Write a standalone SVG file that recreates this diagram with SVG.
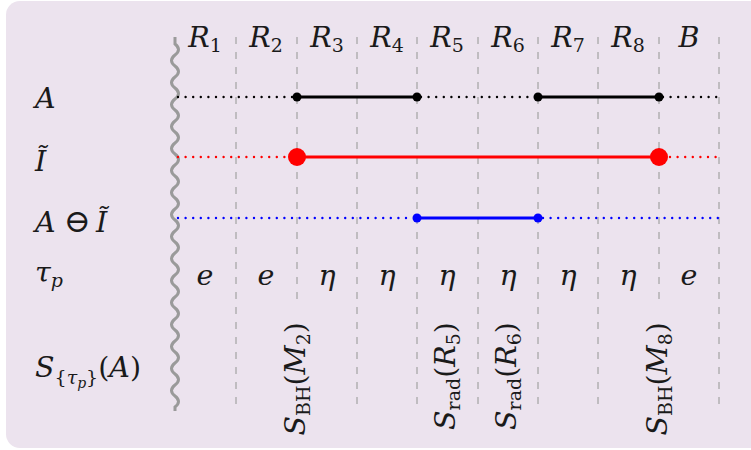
<svg xmlns="http://www.w3.org/2000/svg" width="751" height="450" viewBox="0 0 751 450">
<style>
text{font-family:"DejaVu Serif","Liberation Serif",serif;font-size:28.5px;fill:#1a1a1a}
.i{font-style:italic}
.u{font-style:normal}
.sub{font-size:19px}
.grid{stroke:#a8a8a8;stroke-width:1.3;stroke-dasharray:7 8;fill:none}
.dot{stroke-width:2.4;stroke-linecap:round;stroke-dasharray:0 7.6;fill:none}
.solid{stroke-width:3.2;fill:none}
</style>
<rect x="6" y="1" width="770" height="447" rx="14" fill="#ece3ee"/>

<g id="grid">
<path class="grid" d="M236 37V411M357 37V411M417 37V411M478 37V411M538 37V411M598 37V411M719 37V411M297 37V300M659 37V300"/>
</g>
<g id="wave">
<path d="M175 37V44q7 5.5 0 11t0 11t0 11t0 11t0 11t0 11t0 11t0 11t0 11t0 11t0 11t0 11t0 11t0 11t0 11t0 11t0 11t0 11t0 11t0 11t0 11t0 11t0 11t0 11t0 11t0 11t0 11t0 11t0 11t0 11t0 11t0 11t0 11V411" stroke="#9a9a9a" stroke-width="3" fill="none"/>
</g>

<g id="headers">
<text x="205" y="47" text-anchor="middle" class="i">R<tspan class="sub u" dy="5">1</tspan></text>
<text x="266" y="47" text-anchor="middle" class="i">R<tspan class="sub u" dy="5">2</tspan></text>
<text x="327" y="47" text-anchor="middle" class="i">R<tspan class="sub u" dy="5">3</tspan></text>
<text x="387" y="47" text-anchor="middle" class="i">R<tspan class="sub u" dy="5">4</tspan></text>
<text x="447" y="47" text-anchor="middle" class="i">R<tspan class="sub u" dy="5">5</tspan></text>
<text x="508" y="47" text-anchor="middle" class="i">R<tspan class="sub u" dy="5">6</tspan></text>
<text x="568" y="47" text-anchor="middle" class="i">R<tspan class="sub u" dy="5">7</tspan></text>
<text x="628" y="47" text-anchor="middle" class="i">R<tspan class="sub u" dy="5">8</tspan></text>
<text x="689" y="47" text-anchor="middle" class="i">B</text>
</g>

<g id="row-labels">
<text x="35" y="108" class="i">A</text>
<text x="35" y="171" class="i">Ĩ</text>
<text x="35" y="232"><tspan class="i">A</tspan><tspan x="64" class="u" style="font-size:32px">⊖</tspan><tspan x="96" class="i">Ĩ</tspan></text>
<text x="35" y="282" class="i">τ<tspan class="sub" dy="5">p</tspan></text>
<text x="35" y="377"><tspan class="i">S</tspan><tspan class="sub u" dy="7">{</tspan><tspan class="sub i">τ</tspan><tspan class="i" style="font-size:14px" dy="4">p</tspan><tspan class="sub u" dy="-4">}</tspan><tspan class="u" dy="-7">(</tspan><tspan class="i">A</tspan><tspan class="u">)</tspan></text>
</g>

<g id="connectors">
<g id="row-A" stroke="#000" fill="#000">
<path class="dot" d="M178 97H294M421 97H535M663 97H719"/>
<path class="solid" d="M297 97H417M538 97H659"/>
<circle cx="297" cy="97" r="4.5" stroke="none"/>
<circle cx="417" cy="97" r="4.5" stroke="none"/>
<circle cx="538" cy="97" r="4.5" stroke="none"/>
<circle cx="659" cy="97" r="4.5" stroke="none"/>
</g>
<g id="row-I" stroke="#ff0000" fill="#ff0000">
<path class="dot" d="M178 157H287M670 157H719"/>
<path class="solid" d="M297 157H659" stroke-width="3.6"/>
<circle cx="297" cy="157" r="9" stroke="none"/>
<circle cx="659" cy="157" r="9" stroke="none"/>
</g>
<g id="row-AI" stroke="#0000ff" fill="#0000ff">
<path class="dot" d="M178 218H412M543 218H719"/>
<path class="solid" d="M417 218H538"/>
<circle cx="417" cy="218" r="4.5" stroke="none"/>
<circle cx="538" cy="218" r="4.5" stroke="none"/>
</g>
</g>

<g id="tau-row">
<text x="205" y="285" text-anchor="middle" class="i">e</text>
<text x="266" y="285" text-anchor="middle" class="i">e</text>
<text x="327" y="285" text-anchor="middle" class="i">η</text>
<text x="387" y="285" text-anchor="middle" class="i">η</text>
<text x="447" y="285" text-anchor="middle" class="i">η</text>
<text x="508" y="285" text-anchor="middle" class="i">η</text>
<text x="568" y="285" text-anchor="middle" class="i">η</text>
<text x="628" y="285" text-anchor="middle" class="i">η</text>
<text x="689" y="285" text-anchor="middle" class="i">e</text>
</g>

<g id="entropy-labels">
<text transform="translate(305,322) rotate(-90)" text-anchor="end"><tspan class="i">S</tspan><tspan class="sub u" dy="5">BH</tspan><tspan class="u" dy="-5">(</tspan><tspan class="i">M</tspan><tspan class="sub u" dy="5">2</tspan><tspan class="u" dy="-5">)</tspan></text>
<text transform="translate(455,322) rotate(-90)" text-anchor="end"><tspan class="i">S</tspan><tspan class="sub u" dy="5">rad</tspan><tspan class="u" dy="-5">(</tspan><tspan class="i">R</tspan><tspan class="sub u" dy="5">5</tspan><tspan class="u" dy="-5">)</tspan></text>
<text transform="translate(516,322) rotate(-90)" text-anchor="end"><tspan class="i">S</tspan><tspan class="sub u" dy="5">rad</tspan><tspan class="u" dy="-5">(</tspan><tspan class="i">R</tspan><tspan class="sub u" dy="5">6</tspan><tspan class="u" dy="-5">)</tspan></text>
<text transform="translate(667,322) rotate(-90)" text-anchor="end"><tspan class="i">S</tspan><tspan class="sub u" dy="5">BH</tspan><tspan class="u" dy="-5">(</tspan><tspan class="i">M</tspan><tspan class="sub u" dy="5">8</tspan><tspan class="u" dy="-5">)</tspan></text>
</g>
</svg>
